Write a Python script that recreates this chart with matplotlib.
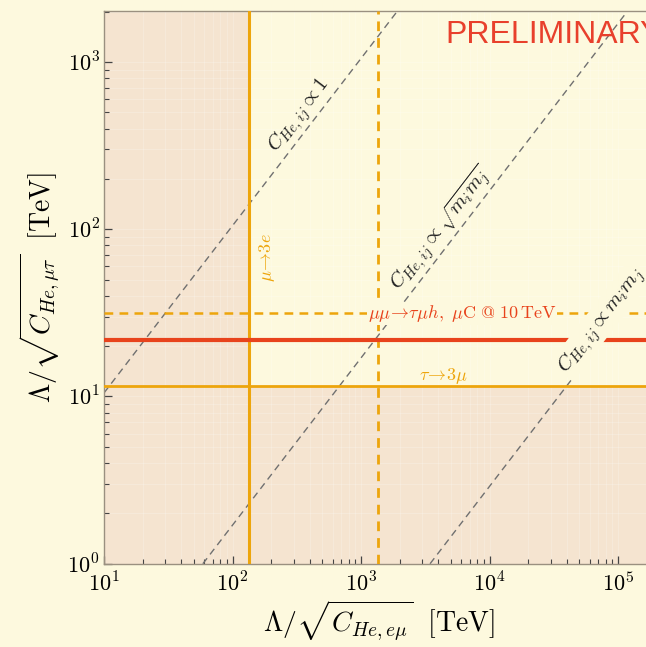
import numpy as np
import matplotlib
matplotlib.use("Agg")
import matplotlib.pyplot as plt

plt.rcParams['mathtext.fontset'] = 'cm'
plt.rcParams['font.family'] = ['DejaVu Serif']

# ---- data ----
xlim = (10.0, 10**5.28)
ylim = (1.0, 2018.0)
mu3e_bound = 135.0          # vertical solid (mu -> 3e)
mu3e_future = 1355.0        # vertical dashed
tau3mu_bound = 11.6         # horizontal solid (tau -> 3mu)
tau3mu_future = 31.6        # horizontal dashed
muC_bound = 21.8            # red: mu mu -> tau mu h, muC @ 10 TeV
diag_ratios = [1.05, 0.017, 2.9e-4]   # y = r * x
diag_labels = [r'$C_{He,ij}\propto 1$',
               r'$C_{He,ij}\propto \sqrt{m_i m_j}$',
               r'$C_{He,ij}\propto m_i m_j$']
diag_label_pos = [(329, 480), (4300, 100), (74000, 28.5)]

bg = '#fdf9de'
shade = '#f5e4d0'
orange = '#eda50c'
red = '#e8431c'

fig = plt.figure(figsize=(6.46, 6.47), dpi=100, facecolor=bg)
ax = fig.add_axes([104/646, 1 - 563.7/647, 550/646, (563.7-11)/647])
ax.set_facecolor(bg)
ax.set_xscale('log')
ax.set_yscale('log')
ax.set_xlim(*xlim)
ax.set_ylim(*ylim)

# shaded excluded regions
ax.axvspan(xlim[0], mu3e_bound, color=shade, lw=0, zorder=0.2)
ax.axhspan(ylim[0], tau3mu_bound, color=shade, lw=0, zorder=0.2)
ax.set_axisbelow(True)
ax.grid(which='both', color='white', alpha=0.2, lw=0.8)

# diagonal lines
xs = np.array([xlim[0], xlim[1]])
for r in diag_ratios:
    ax.plot(xs, r*xs, color='#707070', lw=1.0, dashes=(5, 3.5), zorder=2)

# bounds
ax.axvline(mu3e_bound, color=orange, lw=2.2, zorder=3)
ax.axvline(mu3e_future, color=orange, lw=2.0, dashes=(3.5, 2.5), zorder=3)
ax.axhline(tau3mu_bound, color=orange, lw=2.0, zorder=3)
ax.axhline(tau3mu_future, color=orange, lw=1.8, dashes=(3.5, 2.5), zorder=3)
ax.axhline(muC_bound, color=red, lw=3.0, zorder=3)

# angle of slope-1 lines on screen
fig.canvas.draw()
p1 = ax.transData.transform((100, 100))
p2 = ax.transData.transform((1000, 1000))
ang = np.degrees(np.arctan2(p2[1]-p1[1], p2[0]-p1[0]))

for i, (lab, (lx, ly)) in enumerate(zip(diag_labels, diag_label_pos)):
    kw = {}
    if i == 2:
        kw = dict(bbox=dict(boxstyle='square,pad=0.1', fc=bg, ec='none'))
    ax.text(lx, ly, lab, rotation=ang, ha='center', va='center',
            fontsize=15, color='#222222', zorder=5, **kw)

ax.text(185, 67.7, r'$\mu\!\rightarrow\!3e$', rotation=90, ha='center', va='center',
        fontsize=13, color=orange, zorder=5)
ax.text(4346, 13.3, r'$\tau\!\rightarrow\!3\mu$', ha='center', va='center',
        fontsize=13, color=orange, zorder=5)
ax.text(6110, 31.3, r'$\mu\mu\!\rightarrow\!\tau\mu h,\ \mu\mathrm{C}\ @\ 10\,\mathrm{TeV}$',
        ha='center', va='center', fontsize=13, color=red, zorder=5,
        bbox=dict(boxstyle='square,pad=0.05', fc=bg, ec='none'))

fig.text(445/646, 1 - 35/647, 'PRELIMINARY', family='Liberation Sans', fontsize=23,
         color='#e8402c', ha='left', va='center')

# ticks
ax.set_xticks([10, 100, 1000, 1e4, 1e5])
ax.set_xticklabels([r'$10^{1}$', r'$10^{2}$', r'$10^{3}$', r'$10^{4}$', r'$10^{5}$'])
ax.set_yticks([1, 10, 100, 1000])
ax.set_yticklabels([r'$10^{0}$', r'$10^{1}$', r'$10^{2}$', r'$10^{3}$'])
ax.tick_params(which='both', direction='in', colors='#444444', labelcolor='black',
               labelsize=16, top=False, right=False)
ax.tick_params(axis='x', which='major', pad=6)
ax.tick_params(axis='y', which='major', pad=3)
ax.tick_params(which='major', length=6, width=0.9)
ax.tick_params(which='minor', length=3.5, width=0.8)
for s in ax.spines.values():
    s.set_color('#9a9080')
    s.set_linewidth(1.0)

ax.set_xlabel(r'$\Lambda/\sqrt{C_{He,e\mu}}\ \ [\mathrm{TeV}]$', fontsize=20, labelpad=2)
ax.set_ylabel(r'$\Lambda/\sqrt{C_{He,\mu\tau}}\ \ [\mathrm{TeV}]$', fontsize=20, labelpad=4)

fig.savefig('out.png', dpi=100, facecolor=bg)
